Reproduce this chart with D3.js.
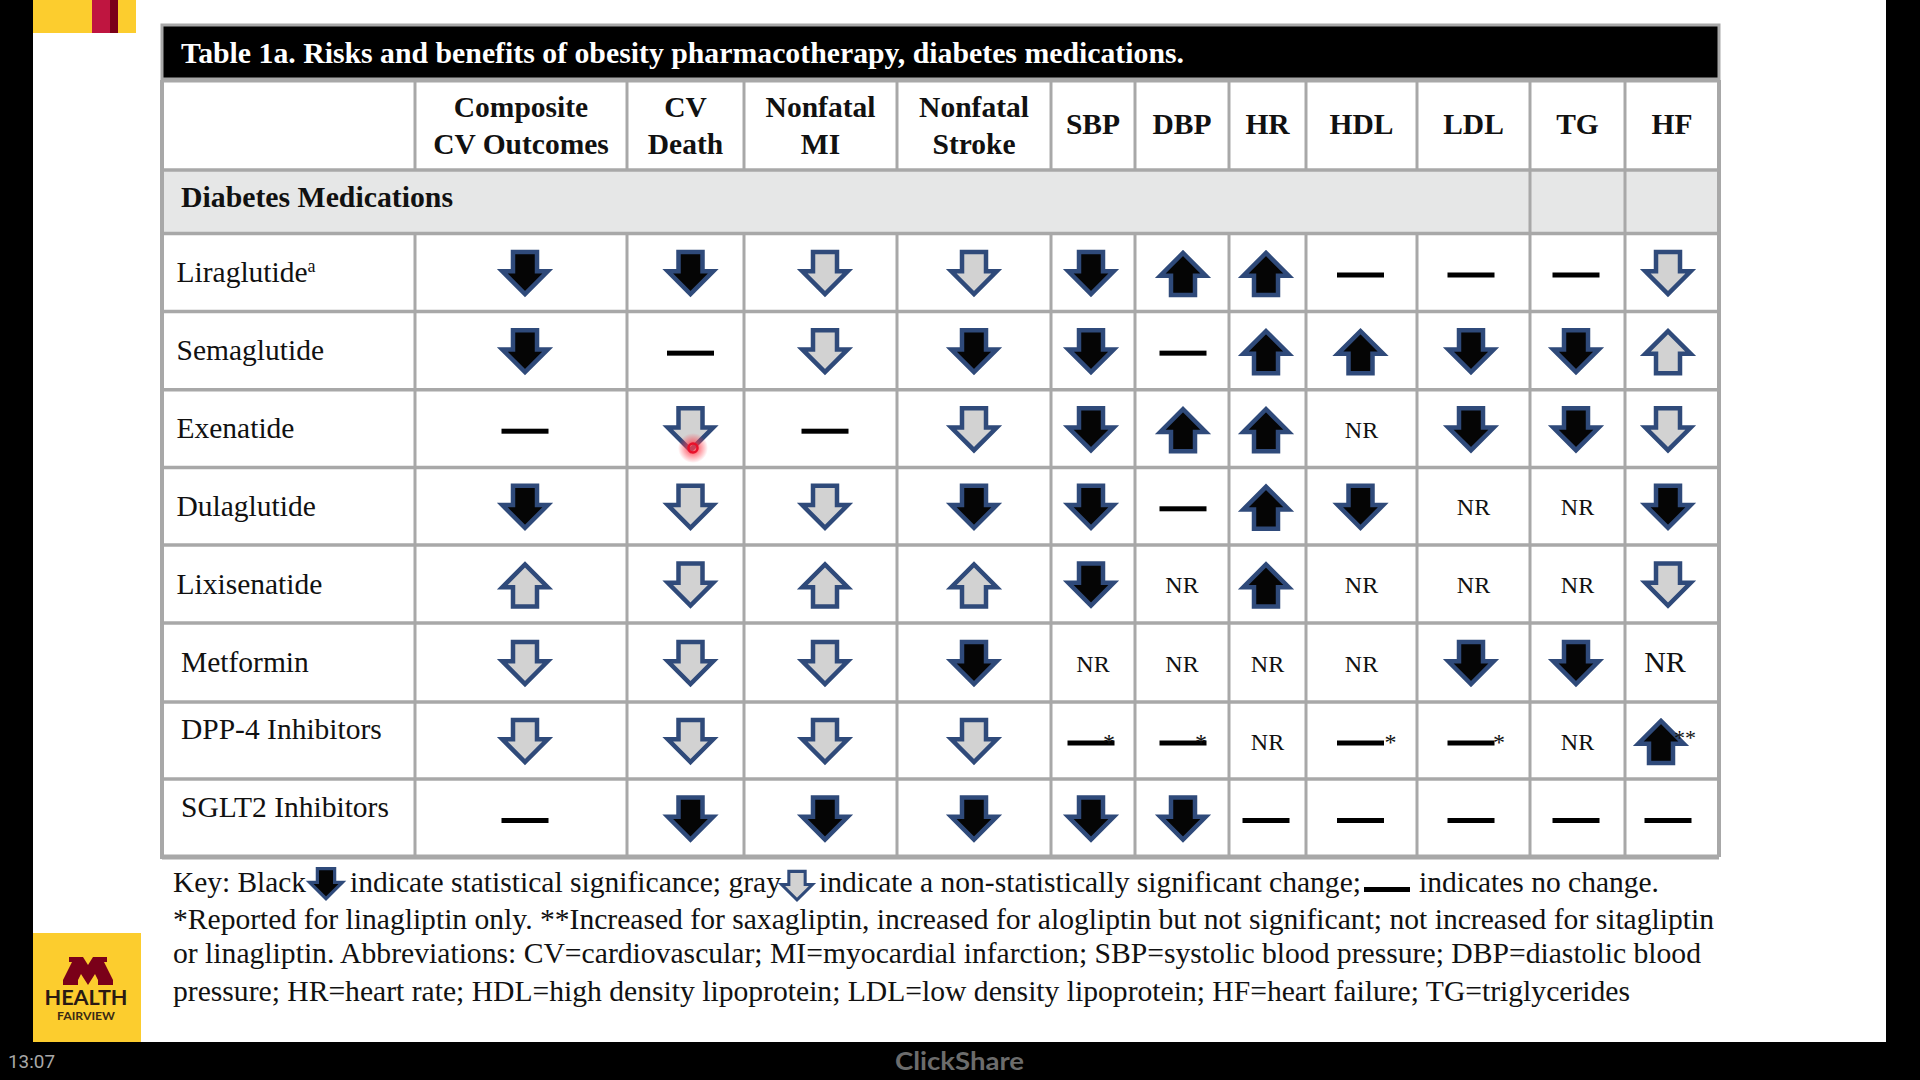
<!DOCTYPE html>
<html>
<head>
<meta charset="utf-8">
<title>Table 1a</title>
<script src="https://cdn.jsdelivr.net/npm/d3@7/dist/d3.min.js"></script>
<style>
	html, body { margin: 0; padding: 0; background: #000; overflow: hidden; }
	text { font-family: "Liberation Serif", serif; }
</style>
</head>
<body>
<svg id="slide" width="1920" height="1080"></svg>
<script>
// what the table says. D/d = black/gray arrow down, U/u = black/gray arrow up,
// - = no change, -* = no change with footnote, U** = up with footnote, NR = not reported
var columns = ['Composite', 'CV Death', 'Nonfatal MI', 'Nonfatal Stroke', 'SBP', 'DBP', 'HR', 'HDL', 'LDL', 'TG', 'HF'];
var columnHeads = [['Composite', 'CV Outcomes'], ['CV', 'Death'], ['Nonfatal', 'MI'], ['Nonfatal', 'Stroke'], ['SBP'], ['DBP'], ['HR'], ['HDL'], ['LDL'], ['TG'], ['HF']];
var drugs = ['Liraglutide', 'Semaglutide', 'Exenatide', 'Dulaglutide', 'Lixisenatide', 'Metformin', 'DPP-4 Inhibitors', 'SGLT2 Inhibitors'];
var liraglutide = ['D', 'D', 'd', 'd', 'D', 'U', 'U', '-', '-', '-', 'd'];
var semaglutide = ['D', '-', 'd', 'D', 'D', '-', 'U', 'U', 'D', 'D', 'u'];
var exenatide = ['-', 'd', '-', 'd', 'D', 'U', 'U', 'NR', 'D', 'D', 'd'];
var dulaglutide = ['D', 'd', 'd', 'D', 'D', '-', 'U', 'D', 'NR', 'NR', 'D'];
var lixisenatide = ['u', 'd', 'u', 'u', 'D', 'NR', 'U', 'NR', 'NR', 'NR', 'd'];
var metformin = ['d', 'd', 'd', 'D', 'NR', 'NR', 'NR', 'NR', 'D', 'D', 'NR'];
var dpp4 = ['d', 'd', 'd', 'd', '-*', '-*', 'NR', '-*', '-*', 'NR', 'U**'];
var sglt2 = ['-', 'D', 'D', 'D', 'D', 'D', '-', '-', '-', '-', '-'];
var effects = [liraglutide, semaglutide, exenatide, dulaglutide, lixisenatide, metformin, dpp4, sglt2];

var titleText = 'Table 1a. Risks and benefits of obesity pharmacotherapy, diabetes medications.';
var sectionText = 'Diabetes Medications';
var keyLine2 = '*Reported for linagliptin only. **Increased for saxagliptin, increased for alogliptin but not significant; not increased for sitagliptin';
var keyLine3 = 'or linagliptin. Abbreviations: CV=cardiovascular; MI=myocardial infarction; SBP=systolic blood pressure; DBP=diastolic blood';
var keyLine4 = 'pressure; HR=heart rate; HDL=high density lipoprotein; LDL=low density lipoprotein; HF=heart failure; TG=triglycerides';

// grid layout
var colEdges = [415, 627, 744, 897, 1051, 1135, 1229, 1306, 1417, 1530, 1625, 1719];
var rowEdges = [233.5, 311.5, 389.8, 467.6, 545, 623, 702, 779, 857];
// arrows and dashes don't sit dead centre in the original, each column drifts a little
var markDrift = [4, 5, 4.5, 0, -2, 1, -1.5, -1, -2.5, -1.5, -4];
var starGap = [0, 0, 0, 0, 18, 18, 0, 30, 28, 0, 0];
var tableLeft = 162;
var gridColor = '#a8a8a8';
var arrowEdge = '#2f4a7a';
var grayFill = '#d2d2d2';

var colX = d3.scaleOrdinal(columns, columns.map(function (c, i) { return (colEdges[i] + colEdges[i + 1]) / 2; }));
var rowY = d3.scaleOrdinal(drugs, drugs.map(function (c, i) { return (rowEdges[i] + rowEdges[i + 1]) / 2; }));
var arrowPath = 'M-12,-21.5 H12 V-2.2 H22.7 L0,20.5 L-22.7,-2.2 H-12 Z';

var svg = d3.select('#slide');

function rect(parent, x, y, w, h, fill) {
	return parent.append('rect').attr('x', x).attr('y', y).attr('width', w).attr('height', h).attr('fill', fill);
}

function line(parent, x1, y1, x2, y2, width) {
	return parent.append('line').attr('x1', x1).attr('y1', y1).attr('x2', x2).attr('y2', y2)
		.attr('stroke', gridColor).attr('stroke-width', width);
}

function label(parent, str, x, y, size, opts) {
	opts = opts || {};
	var t = parent.append('text')
		.attr('x', x)
		.attr('y', y)
		.attr('font-size', size)
		.attr('fill', opts.fill || '#111')
		.attr('font-weight', opts.bold ? 'bold' : 'normal')
		.attr('text-anchor', opts.anchor || 'start')
		.text(str);
	if (opts.length) {
		t.attr('textLength', opts.length).attr('lengthAdjust', 'spacingAndGlyphs');
	}
	if (opts.family) {
		t.style('font-family', opts.family);
	}
	return t;
}

// slide background and branding
rect(svg, 0, 0, 1920, 1080, '#000');
rect(svg, 33, 0, 1853, 1042, '#fff');
rect(svg, 33, 0, 103, 33, '#fccd2e');
rect(svg, 92, 0, 18, 33, '#bf1540');
rect(svg, 110, 0, 8, 33, '#7a0019');
rect(svg, 33, 933, 108, 109, '#fccd2e');
svg.append('path')
	.attr('transform', 'translate(63,957)')
	.attr('fill', '#7a0019')
	.attr('d', 'M6,0 H20 L25,8 L30,0 H44 V5 H41 L50,23 V28 H35 V23 L32,17 L25,28 L18,17 L15,23 V28 H0 V23 L9,5 H6 Z');
label(svg, 'HEALTH', 86, 1004.5, 21, { anchor: 'middle', bold: true, fill: '#2a1a14', length: 83, family: 'Lato, sans-serif' });
label(svg, 'FAIRVIEW', 86, 1020, 10.5, { anchor: 'middle', bold: true, fill: '#3a2a14', length: 58, family: 'Lato, sans-serif' });
label(svg, '13:07', 8, 1068, 19, { fill: '#a8a8a8', length: 47, family: 'Roboto, sans-serif' });
label(svg, 'ClickShare', 895, 1070, 25, { bold: true, fill: '#6c6c6c', length: 129, family: 'Lato, sans-serif' });

// table frame
var table = svg.append('g');
rect(table, tableLeft, 24, 1719 - tableLeft, 833, '#fff');
rect(table, tableLeft, 170, 1719 - tableLeft, 63.5, '#e6e7e7');
rowEdges.forEach(function (y, i) {
	line(table, tableLeft, y, 1719, y, i === rowEdges.length - 1 ? 5 : 3.5);
});
line(table, tableLeft, 170, 1719, 170, 3.5);
line(table, tableLeft, 81, 1719, 81, 3);
colEdges.forEach(function (x, i) {
	var last = i === colEdges.length - 1;
	line(table, x, 80, x, 170, last ? 4 : 3);
	if (i === 0 || !last && x < 1530) {
		line(table, x, 233, x, 857, 3);
	}
	if (x >= 1530) {
		line(table, x, 170, x, 857, last ? 4 : 3);
	}
});
line(table, tableLeft, 80, tableLeft, 859, 4);
rect(table, tableLeft, 25, 1719 - tableLeft, 54, '#000').attr('stroke', gridColor).attr('stroke-width', 3);

label(table, titleText, 181, 63, 29, { bold: true, fill: '#fff', length: 1003 });
label(table, sectionText, 181, 206.5, 29, { bold: true, length: 272 });

// column heads
columnHeads.forEach(function (head, i) {
	var x = colX(columns[i]);
	if (head.length === 2) {
		label(table, head[0], x, 117, 29.5, { bold: true, anchor: 'middle' });
		label(table, head[1], x, 154, 29.5, { bold: true, anchor: 'middle' });
	} else {
		label(table, head[0], x, 134, 29.5, { bold: true, anchor: 'middle' });
	}
});

// row names, the last two sit high in their cell
table.selectAll('text.drug')
	.data(drugs)
	.enter()
	.append('text')
	.attr('class', 'drug')
	.attr('x', function (d, i) { return i < 5 ? 176.5 : 181; })
	.attr('y', function (d, i) { return rowY(d) + (i < 6 ? 9.5 : -1.5); })
	.attr('font-size', 29.5)
	.attr('fill', '#111')
	.text(function (d) { return d; });
table.select('text.drug')
	.append('tspan')
	.attr('font-size', 18)
	.attr('dy', -10)
	.text('a');

// cells
var cells = [];
drugs.forEach(function (drug, r) {
	columns.forEach(function (col, c) {
		cells.push({ drug: drug, col: col, colIndex: c, value: effects[r][c] });
	});
});

function drawArrow(parent, x, y, up, black, scale) {
	parent.append('path')
		.attr('transform', 'translate(' + x + ',' + y + ') scale(' + (scale || 1) + ',' + (scale || 1) * (up ? -1 : 1) + ')')
		.attr('d', arrowPath)
		.attr('fill', black ? '#050505' : grayFill)
		.attr('stroke', arrowEdge)
		.attr('stroke-width', 4.5)
		.attr('stroke-miterlimit', 4);
}

var marks = svg.append('g');
cells.forEach(function (d) {
	var cx = colX(d.col);
	var x = cx + markDrift[d.colIndex];
	var y = rowY(d.drug) + 1;
	var v = d.value;
	if (v === 'NR') {
		var big = d.drug === 'Metformin' && d.col === 'HF';
		label(marks, 'NR', cx - (big ? 7 : 0), y + 8, big ? 30 : 24, { anchor: 'middle' });
	} else if (v === '-' || v === '-*') {
		rect(marks, x - 23.5, y - 1, 47, 5, '#000');
		if (v === '-*') {
			label(marks, '*', x + starGap[d.colIndex], y + 8, 24, { anchor: 'middle' });
		}
	} else if (v === 'U**') {
		drawArrow(marks, x - 7, y, true, true);
		label(marks, '**', x + 17, y + 3, 22, { anchor: 'middle' });
	} else {
		drawArrow(marks, x, y, v === 'U' || v === 'u', v === 'D' || v === 'U');
	}
});

// presenter's pointer
var pointer = svg.append('defs').append('radialGradient').attr('id', 'glow');
pointer.append('stop').attr('offset', '30%').attr('stop-color', '#ff3b4a').attr('stop-opacity', 0.75);
pointer.append('stop').attr('offset', '100%').attr('stop-color', '#ff3b4a').attr('stop-opacity', 0);
svg.append('circle').attr('cx', 693).attr('cy', 448).attr('r', 15).attr('fill', 'url(#glow)');
svg.append('circle').attr('cx', 693).attr('cy', 448).attr('r', 4.5).attr('fill', 'none').attr('stroke', '#e8102a').attr('stroke-width', 2.5);

// key
var key = svg.append('g');
label(key, 'Key: Black', 173, 892, 30, { length: 133 });
drawArrow(key, 326, 884, false, true, 0.72);
label(key, 'indicate statistical significance; gray', 350, 892, 30, { length: 431 });
drawArrow(key, 797, 886, false, false, 0.68);
label(key, 'indicate a non-statistically significant change;', 819, 892, 30, { length: 542 });
rect(key, 1364, 887, 46, 5, '#000');
label(key, 'indicates no change.', 1419, 892, 30, { length: 240 });
label(key, keyLine2, 173, 928.5, 30, { length: 1541 });
label(key, keyLine3, 173, 963, 30, { length: 1528 });
label(key, keyLine4, 173, 1000.5, 30, { length: 1457 });
</script>
</body>
</html>
